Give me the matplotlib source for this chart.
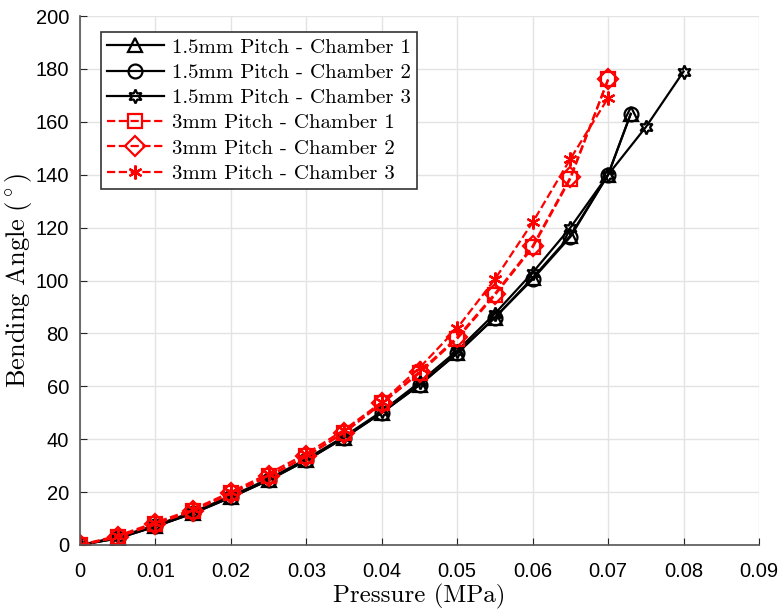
import numpy as np
import matplotlib
matplotlib.use('Agg')
import matplotlib.pyplot as plt

plt.rcParams['mathtext.fontset'] = 'cm'
plt.rcParams['font.family'] = ['Liberation Sans', 'DejaVu Sans']

# Tlak (MPa)
tlak_15 = [0, 0.005, 0.01, 0.015, 0.02, 0.025, 0.03, 0.035, 0.04, 0.045,
           0.05, 0.055, 0.06, 0.065, 0.07, 0.073]
tlak_15_k3 = [0, 0.005, 0.01, 0.015, 0.02, 0.025, 0.03, 0.035, 0.04, 0.045,
              0.05, 0.055, 0.06, 0.065, 0.07, 0.075, 0.08]
tlak_3 = [0, 0.005, 0.01, 0.015, 0.02, 0.025, 0.03, 0.035, 0.04, 0.045,
          0.05, 0.055, 0.06, 0.065, 0.07]

# Uhol ohybu (stupne)
uhol_15_k1 = [0, 2.5, 7, 12, 18, 24.5, 32, 40.5, 50, 60.5, 72.5, 86, 101, 117, 140, 163]
uhol_15_k2 = [0, 2.5, 7, 12, 18, 24.5, 32, 40.5, 50, 60.5, 72.5, 86, 100.5, 116.5, 140, 163]
uhol_15_k3 = [0, 3, 7.5, 12.5, 18.5, 25, 32.5, 41, 50.5, 61.5, 73.5, 87.5, 103, 120, 140, 158, 179]
uhol_3_k1 = [0, 3, 8, 13, 19.5, 26, 33.5, 42.5, 53.5, 65, 78, 94.5, 112.5, 138.5, 176]
uhol_3_k2 = [0, 3, 8, 13, 19.5, 26, 33.5, 42.5, 53.5, 65.5, 78.5, 95, 113, 139, 176]
uhol_3_k3 = [0, 3.5, 8.5, 13.5, 20, 27, 34.5, 43.5, 54, 67, 82, 100.5, 122, 146, 169]

popisky = ['1.5mm Pitch - Chamber 1', '1.5mm Pitch - Chamber 2', '1.5mm Pitch - Chamber 3',
           '3mm Pitch - Chamber 1', '3mm Pitch - Chamber 2', '3mm Pitch - Chamber 3']

fig = plt.figure(figsize=(7.79, 6.10), dpi=100)
ax = fig.add_axes([80 / 779, 1 - 545 / 610, (759 - 80) / 779, (545 - 16) / 610])

spolocne = dict(markersize=10, markerfacecolor='none', markeredgewidth=1.6, linewidth=1.6)
ax.plot(tlak_15, uhol_15_k1, 'k-', marker='^', label=popisky[0], **spolocne)
ax.plot(tlak_15, uhol_15_k2, 'k-', marker='o', label=popisky[1], **spolocne)
ax.plot(tlak_15_k3, uhol_15_k3, 'k-', marker=(6, 1, 0), label=popisky[2], **spolocne)
ax.plot(tlak_3, uhol_3_k1, 'r--', marker='s', label=popisky[3], **spolocne)
ax.plot(tlak_3, uhol_3_k2, 'r--', marker='D', label=popisky[4], **spolocne)
ax.plot(tlak_3, uhol_3_k3, 'r--', marker=(6, 2, 0), label=popisky[5], **spolocne)

ax.set_xlim(0, 0.09)
ax.set_ylim(0, 200)
ax.set_xticks(np.arange(0, 0.091, 0.01))
ax.set_xticklabels(['0', '0.01', '0.02', '0.03', '0.04', '0.05', '0.06', '0.07', '0.08', '0.09'])
ax.set_yticks(np.arange(0, 201, 20))
ax.tick_params(direction='in', labelsize=14.5, colors='#262626', length=5)
ax.tick_params(axis='x', pad=12)
ax.tick_params(axis='y', pad=8)
ax.tick_params(labelcolor='black')
ax.grid(True, color='#e3e3e3', linewidth=1)
ax.set_axisbelow(True)
for s in ['top', 'right']:
    ax.spines[s].set_visible(False)
for s in ['left', 'bottom']:
    ax.spines[s].set_color('#555555')
    ax.spines[s].set_linewidth(1.2)

ax.set_xlabel('Pressure (MPa)', fontsize=18, family='cmr10', labelpad=2)
ax.set_ylabel(r'$\mathrm{Bending\ Angle\ }(^\circ)$', fontsize=19)
ax.yaxis.set_label_coords(-0.068, 0.5)

leg = ax.legend(loc='upper left', bbox_to_anchor=(0.031, 0.970),
                prop={'family': 'cmr10', 'size': 15},
                handlelength=2.7, borderpad=0.3, labelspacing=0.32, handletextpad=0.4,
                borderaxespad=0, fancybox=False, framealpha=1, edgecolor='#333333')
leg.get_frame().set_linewidth(1.2)

plt.savefig('out.png', dpi=100)
